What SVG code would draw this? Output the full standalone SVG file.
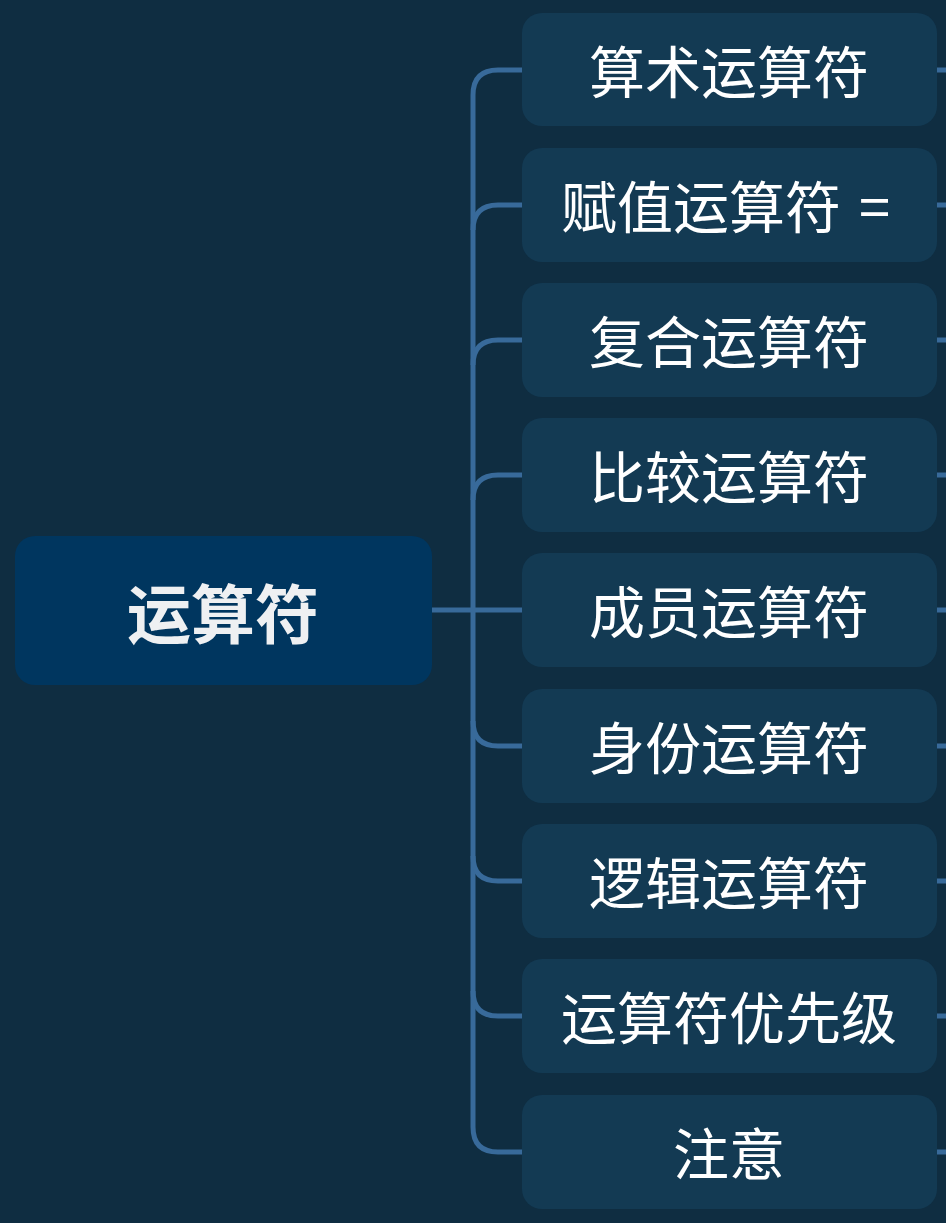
<svg xmlns="http://www.w3.org/2000/svg" width="946" height="1223" viewBox="0 0 946 1223">
<style>
.bg{fill:#0f2d41}
.root rect{fill:#00365f}
.root text{fill:#eef0f2;font-family:"Noto Sans CJK SC","Noto Sans",sans-serif;font-size:64px;font-weight:bold;text-anchor:middle;dominant-baseline:central}
.child rect{fill:#133a53}
.child text{fill:#ffffff;font-family:"Noto Sans CJK SC","Noto Sans",sans-serif;font-size:56px;text-anchor:middle;dominant-baseline:central}
.child text.left{text-anchor:start}
.conn path{fill:none;stroke:#386a9a;stroke-width:5;stroke-linecap:butt}
</style>
<rect class="bg" x="0" y="0" width="946" height="1223"/>
<g id="connectors" class="conn">
<path d="M432 610 H522"/>
<path d="M522 70 H498 Q473 70 473 95 V1127 Q473 1152 498 1152 H522"/>
<path d="M522 205 H498 Q473 205 473 230"/>
<path d="M522 340 H498 Q473 340 473 365"/>
<path d="M522 475 H498 Q473 475 473 500"/>
<path d="M522 746 H498 Q473 746 473 721"/>
<path d="M522 881 H498 Q473 881 473 856"/>
<path d="M522 1016 H498 Q473 1016 473 991"/>
<path d="M937 70 H946 M937 205 H946 M937 340 H946 M937 475 H946 M937 610 H946 M937 746 H946 M937 881 H946 M937 1016 H946 M937 1152 H946"/>
</g>
<g id="root" class="root">
<rect x="15" y="536" width="417" height="149" rx="20"/>
<text x="223" y="610">运算符</text>
</g>
<g id="n1" class="child"><rect x="522" y="13" width="415" height="113" rx="20"/><text x="729" y="68">算术运算符</text></g>
<g id="n2" class="child"><rect x="522" y="148" width="415" height="114" rx="20"/><text class="left" x="561" y="203">赋值运算符<tspan x="859">=</tspan></text></g>
<g id="n3" class="child"><rect x="522" y="283" width="415" height="114" rx="20"/><text x="729" y="338">复合运算符</text></g>
<g id="n4" class="child"><rect x="522" y="418" width="415" height="114" rx="20"/><text x="729" y="473">比较运算符</text></g>
<g id="n5" class="child"><rect x="522" y="553" width="415" height="114" rx="20"/><text x="729" y="608">成员运算符</text></g>
<g id="n6" class="child"><rect x="522" y="689" width="415" height="114" rx="20"/><text x="729" y="744">身份运算符</text></g>
<g id="n7" class="child"><rect x="522" y="824" width="415" height="114" rx="20"/><text x="729" y="879">逻辑运算符</text></g>
<g id="n8" class="child"><rect x="522" y="959" width="415" height="114" rx="20"/><text x="729" y="1014">运算符优先级</text></g>
<g id="n9" class="child"><rect x="522" y="1095" width="415" height="114" rx="20"/><text x="729" y="1150">注意</text></g>
</svg>
